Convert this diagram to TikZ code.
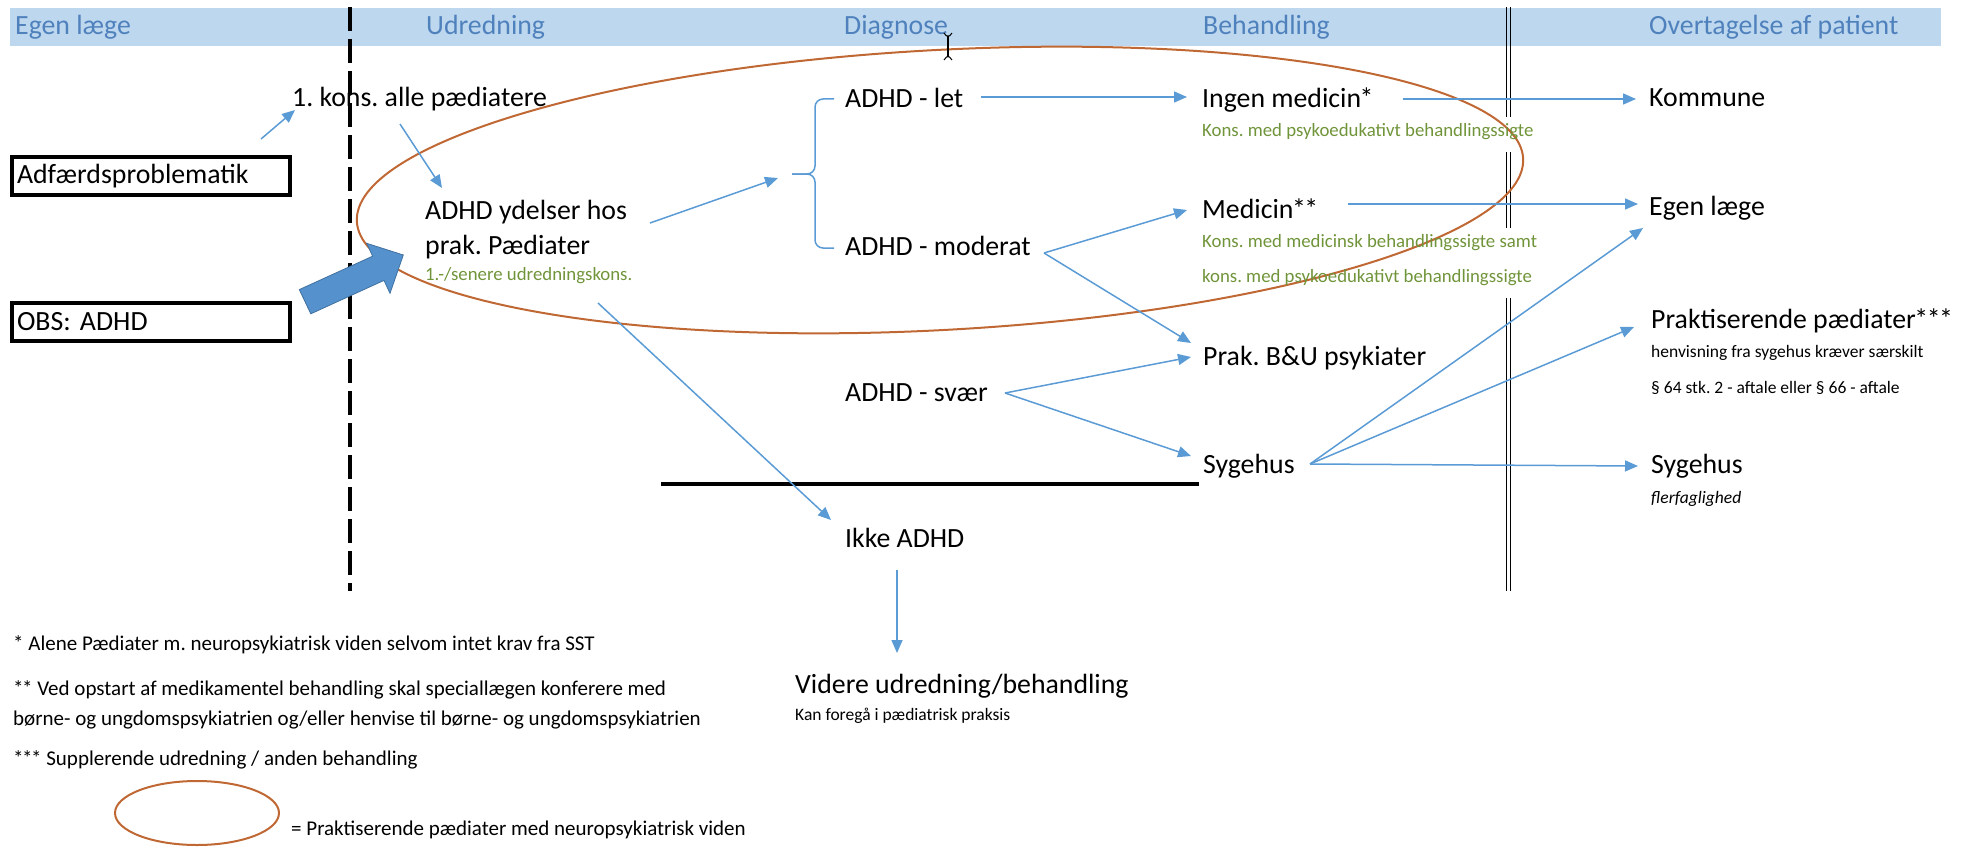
\documentclass[tikz,border=0pt]{standalone}
\usepackage{fontspec}
\setmainfont{Carlito}
\usetikzlibrary{arrows.meta}
\frenchspacing
\definecolor{arrblue}{RGB}{91,155,213}
\definecolor{bandblue}{RGB}{189,215,238}
\definecolor{headblue}{RGB}{79,129,189}
\definecolor{txtgreen}{RGB}{112,148,58}
\definecolor{ellc}{RGB}{192,104,52}
\definecolor{blockblue}{RGB}{84,145,205}
\definecolor{blockedge}{RGB}{65,113,160}
\newcommand{\tightast}{\kern-1.5pt*}
\tikzset{
  lbl/.style={inner sep=0pt, anchor=base west, font=\fontsize{27.8}{32}\selectfont},
  hdr/.style={inner sep=0pt, anchor=base west, text=headblue, font=\fontsize{27.8}{32}\selectfont},
  grn/.style={inner sep=0pt, anchor=base west, text=txtgreen, font=\fontsize{18.8}{22}\selectfont},
  sml/.style={inner sep=0pt, anchor=base west, font=\fontsize{17.5}{21}\selectfont},
  fnote/.style={inner sep=0pt, anchor=base west, font=\fontsize{21}{25}\selectfont},
  boxed/.style={draw=black, line width=4pt, anchor=north west, minimum height=38pt,
    text width=268pt, align=left, inner xsep=5pt, inner ysep=0pt, font=\fontsize{27.8}{32}\selectfont},
  conn/.style={draw=arrblue, line width=1.5pt, -{Triangle[length=13pt,width=11pt]}},
  bracepath/.style={draw=arrblue, line width=1.5pt, rounded corners=8pt},
  ellline/.style={draw=ellc, line width=2pt},
  dblline/.style={draw=black, line width=1.3pt},
}
\begin{document}
\begin{tikzpicture}[x=1pt,y=-1pt]
\useasboundingbox (0,0) rectangle (1972,848);
% header band
\fill[bandblue] (10,8) rectangle (1941,46);
\node[hdr] (h1) at (15,35) {Egen læge};
\node[hdr] (h2) at (426,35) {Udredning};
\node[hdr] (h3) at (844,35) {Diagnose};
\node[hdr] (h4) at (1203,35) {Behandling};
\node[hdr] (h5) at (1649,35) {Overtagelse af patient};
% separators
\draw[black, line width=4pt, dash pattern=on 24pt off 8pt] (350,7) -- (350,591);
\foreach \xx in {1506.5,1510.5}{
  \draw[dblline] (\xx,7) -- (\xx,117);
  \draw[dblline] (\xx,152) -- (\xx,228);
  \draw[dblline] (\xx,298) -- (\xx,591);
}
\draw[black, line width=4.5pt] (661,484) -- (1199,484);
% big ellipse
\draw[ellline, rotate around={3.1:(940,190)}] (940,190) ellipse (584 and 140);
% cursor
\draw[black, line width=1.2pt] (948,36) -- (948,57);
\draw[black, line width=1pt] (944,33) -- (946.5,36) -- (949.5,36) -- (952,33);
\draw[black, line width=1pt] (944,60) -- (946.5,57) -- (949.5,57) -- (952,60);
% boxes
\node[boxed] (adf) at (10,155) {Adfærdsproblematik};
\node[boxed] (obs) at (10,301) {OBS: ADHD};
% texts
\node[lbl] (kons) at (292,107) {1. kons. alle pædiatere};
\node[lbl] (ydel1) at (425,219) {ADHD ydelser hos};
\node[lbl] (ydel2) at (425,254) {prak. Pædiater};
\node[grn] (ydel3) at (425,280) {1.-/senere udredningskons.};
\node[lbl] (let) at (845,108) {ADHD - let};
\node[lbl] (mod) at (845,255) {ADHD - moderat};
\node[lbl] (svaer) at (845,401) {ADHD - svær};
\node[lbl] (ikke) at (845,547) {Ikke ADHD};
\node[lbl] (videre) at (795,693) {Videre udredning/behandling};
\node[sml] (videre2) at (795,720) {Kan foregå i pædiatrisk praksis};
\node[lbl] (ingen) at (1202,108) {Ingen medicin\tightast};
\node[grn] (ingen2) at (1202,136) {Kons. med psykoedukativt behandlingssigte};
\node[lbl] (medi) at (1202,218) {Medicin\tightast\tightast};
\node[grn] (medi2) at (1202,247) {Kons. med medicinsk behandlingssigte samt};
\node[grn] (medi3) at (1202,282) {kons. med psykoedukativt behandlingssigte};
\node[lbl] (prak) at (1203,365) {Prak. B\&U psykiater};
\node[lbl] (syg) at (1203,473) {Sygehus};
\node[lbl] (komm) at (1649,107) {Kommune};
\node[lbl] (egen) at (1649,215) {Egen læge};
\node[lbl] (prakt) at (1651,328) {Praktiserende pædiater\tightast\tightast\tightast};
\node[sml] (prakt2) at (1651,357) {henvisning fra sygehus kræver særskilt};
\node[sml] (prakt3) at (1651,393) {§ 64 stk. 2 - aftale eller § 66 - aftale};
\node[lbl] (syg2) at (1651,473) {Sygehus};
\node[sml, font=\fontsize{17.5}{21}\selectfont\itshape] (syg3) at (1651,503) {flerfaglighed};
% footnotes
\node[fnote] (f1) at (13,650) {* Alene Pædiater m. neuropsykiatrisk viden selvom intet krav fra SST};
\node[fnote] (f2) at (13,695) {*\tightast{} Ved opstart af medikamentel behandling skal speciallægen konferere med};
\node[fnote] (f3) at (13,725) {børne- og ungdomspsykiatrien og/eller henvise til børne- og ungdomspsykiatrien};
\node[fnote] (f4) at (13,765) {*\tightast\tightast{} Supplerende udredning / anden behandling};
\draw[ellline] (197,813) ellipse (82 and 32);
\node[fnote] (f5) at (291,835) {= Praktiserende pædiater med neuropsykiatrisk viden};
% block arrow
\filldraw[fill=blockblue, draw=blockedge, line width=0.8pt]
  (299.3,289.6) -- (372.6,256.2) -- (366.7,243.3) -- (403.3,255) -- (390,293.3) -- (384.0,280.4) -- (310.8,313.8) -- cycle;
% brace
\draw[bracepath] (834,99) -- (815,99) -- (815,174) -- (792,174);
\draw[bracepath] (792,174) -- (815,174) -- (815,248) -- (834,248);
% connector endpoints
\coordinate (a1s) at (261,139); \coordinate (a1e) at (295,110);
\coordinate (a2s) at (400,124); \coordinate (a2e) at (442,188);
\coordinate (a3s) at (650,223); \coordinate (a3e) at (778,178);
\coordinate (a4s) at (981,97);  \coordinate (a4e) at (1187,97);
\coordinate (mods) at (1044,253);
\coordinate (a5e) at (1187,210);
\coordinate (a6e) at (1191,343);
\coordinate (svs) at (1005,393);
\coordinate (a7e) at (1191,357);
\coordinate (a8e) at (1191,456);
\coordinate (a9s) at (598,303); \coordinate (a9e) at (831,520);
\coordinate (a10s) at (897,570); \coordinate (a10e) at (897,653);
\coordinate (a11s) at (1403,99); \coordinate (a11e) at (1636,99);
\coordinate (a12s) at (1348,204); \coordinate (a12e) at (1638,204);
\coordinate (sys) at (1310,464);
\coordinate (a13e) at (1643,228);
\coordinate (a14e) at (1634,327);
\coordinate (a15e) at (1638,466);
% connectors
\draw[conn] (a1s) -- (a1e);
\draw[conn] (a2s) -- (a2e);
\draw[conn] (a3s) -- (a3e);
\draw[conn] (a4s) -- (a4e);
\draw[conn] (mods) -- (a5e);
\draw[conn] (mods) -- (a6e);
\draw[conn] (svs) -- (a7e);
\draw[conn] (svs) -- (a8e);
\draw[conn] (a9s) -- (a9e);
\draw[conn] (a10s) -- (a10e);
\draw[conn] (a11s) -- (a11e);
\draw[conn] (a12s) -- (a12e);
\draw[conn] (sys) -- (a13e);
\draw[conn] (sys) -- (a14e);
\draw[conn] (sys) -- (a15e);
\end{tikzpicture}
\end{document}
